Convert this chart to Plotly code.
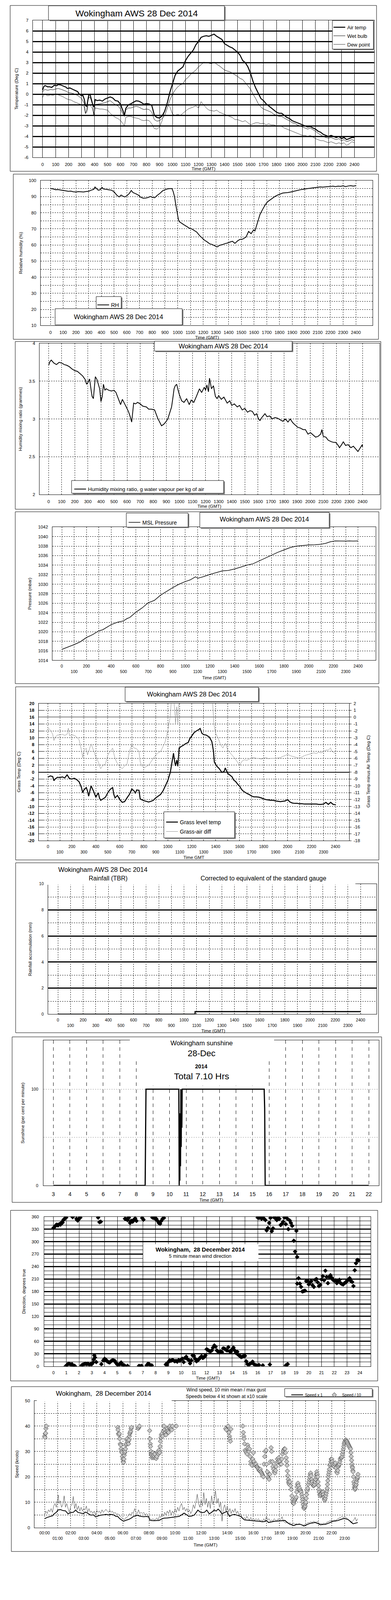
import plotly.graph_objects as go

# ------------------------------------------------------------------ data
TICKS_100 = list(range(0, 2401, 100))
SUN_HOURS = list(range(3, 23))
DIR_HOURS = list(range(0, 25))
HOUR_LABELS = ["%02d:00" % h for h in range(24)]

AIR_TEMP = [(0,0.4),(10,0.75),(20,0.82),(40,0.7),(50,0.72),(70,0.65),(90,0.85),(110,0.82),(120,0.92),(140,0.88),(160,0.78),(180,0.68),(190,0.55),(210,0.6),(230,0.48),(250,0.35),(270,0.25),(280,0.05),(300,-0.15),(310,-0.1),(320,-0.45),(330,-1.05),(340,-1.15),(345,-0.8),(355,-0.1),(365,0.0),(375,-0.5),(385,-0.95),(395,-1.2),(405,-0.5),(420,-0.6),(440,-0.55),(460,-0.65),(480,-0.45),(500,-0.35),(520,-0.25),(540,-0.35),(560,-0.6),(580,-0.65),(600,-0.95),(610,-1.3),(620,-1.6),(630,-2.0),(640,-1.35),(660,-1.0),(680,-0.9),(700,-0.75),(720,-0.62),(740,-0.65),(760,-0.78),(780,-0.95),(800,-0.88),(820,-0.92),(840,-1.05),(850,-1.5),(860,-2.0),(880,-2.2),(900,-2.25),(920,-2.05),(940,-1.6),(960,-0.8),(980,0.2),(1000,1.0),(1020,1.8),(1040,2.2),(1060,2.4),(1080,2.6),(1100,3.2),(1120,3.6),(1140,3.9),(1160,4.2),(1180,4.7),(1200,5.0),(1220,5.4),(1240,5.5),(1260,5.55),(1280,5.5),(1300,5.6),(1320,5.7),(1340,5.5),(1360,5.35),(1380,5.2),(1400,4.8),(1420,4.65),(1440,4.5),(1460,4.4),(1480,4.2),(1500,4.0),(1520,3.7),(1540,3.2),(1560,3.0),(1580,2.6),(1600,2.0),(1620,1.2),(1640,0.6),(1660,0.1),(1680,-0.4),(1700,-0.6),(1720,-0.9),(1740,-1.1),(1760,-1.3),(1780,-1.5),(1800,-1.7),(1820,-1.8),(1840,-1.8),(1860,-2.0),(1880,-2.2),(1900,-2.3),(1920,-2.5),(1940,-2.6),(1960,-2.7),(1980,-2.8),(2000,-2.9),(2020,-3.0),(2040,-3.1),(2060,-3.05),(2080,-3.2),(2100,-3.3),(2120,-3.5),(2140,-3.6),(2160,-3.8),(2180,-3.9),(2200,-4.0),(2220,-3.9),(2240,-4.0),(2260,-4.1),(2280,-4.0),(2300,-4.2),(2320,-4.1),(2340,-4.3),(2360,-4.2),(2380,-4.1),(2400,-4.1)]

WET_BULB = [(0,0.2),(10,0.4),(20,0.45),(40,0.38),(60,0.45),(80,0.42),(100,0.5),(120,0.55),(140,0.48),(160,0.4),(180,0.3),(200,0.15),(220,0.12),(240,0.05),(260,-0.05),(280,-0.2),(300,-0.4),(320,-0.85),(330,-1.8),(340,-1.5),(350,-0.5),(360,-0.25),(370,-0.4),(385,-1.0),(395,-1.95),(405,-0.95),(420,-0.95),(440,-0.9),(460,-0.85),(480,-0.8),(500,-0.7),(520,-0.6),(540,-0.8),(560,-1.0),(580,-1.1),(600,-1.4),(620,-1.9),(630,-2.1),(640,-1.5),(660,-1.3),(680,-1.3),(700,-1.2),(720,-1.15),(740,-1.2),(760,-1.35),(780,-1.45),(800,-1.4),(820,-1.45),(840,-1.7),(860,-2.4),(880,-2.55),(900,-2.5),(920,-2.3),(940,-2.0),(960,-1.3),(980,-0.5),(1000,0.0),(1020,0.4),(1040,0.7),(1060,0.9),(1080,1.0),(1100,1.4),(1120,1.6),(1140,1.9),(1160,2.1),(1180,2.3),(1200,2.6),(1220,2.8),(1240,3.05),(1260,3.0),(1280,2.95),(1300,2.9),(1320,3.05),(1340,2.85),(1360,2.7),(1380,2.5),(1400,2.3),(1420,2.2),(1440,2.15),(1460,2.0),(1480,1.85),(1500,1.7),(1520,1.5),(1540,1.4),(1560,1.1),(1580,0.8),(1600,0.5),(1620,0.0),(1640,-0.4),(1660,-0.9),(1680,-1.2),(1700,-1.4),(1720,-1.5),(1740,-1.6),(1760,-1.7),(1780,-1.9),(1800,-2.0),(1820,-2.1),(1840,-2.1),(1860,-2.25),(1880,-2.4),(1900,-2.5),(1920,-2.7),(1940,-2.75),(1960,-2.9),(1980,-3.0),(2000,-3.1),(2020,-3.2),(2040,-3.3),(2060,-3.2),(2080,-3.35),(2100,-3.5),(2120,-3.7),(2140,-3.85),(2160,-4.0),(2180,-4.1),(2200,-4.15),(2220,-4.1),(2240,-4.2),(2260,-4.3),(2280,-4.2),(2300,-4.4),(2320,-4.3),(2340,-4.5),(2360,-4.4),(2380,-4.3),(2400,-4.4)]

DEW_POINT = [(0,-0.3),(10,-0.05),(20,0.0),(40,-0.15),(60,-0.05),(80,-0.1),(100,0.0),(120,-0.05),(140,-0.15),(160,-0.25),(180,-0.4),(200,-0.5),(220,-0.55),(240,-0.7),(260,-0.8),(280,-0.9),(300,-1.0),(320,-1.2),(330,-1.85),(340,-1.7),(350,-1.1),(360,-1.0),(370,-1.1),(385,-1.4),(395,-2.0),(405,-1.3),(420,-1.35),(440,-1.4),(460,-1.4),(480,-1.45),(500,-1.5),(520,-1.8),(540,-2.0),(560,-2.2),(580,-2.3),(600,-2.5),(620,-2.8),(630,-3.05),(640,-2.2),(660,-2.1),(680,-2.1),(700,-2.2),(720,-2.25),(740,-2.3),(760,-2.45),(780,-2.5),(800,-2.45),(820,-2.5),(840,-2.8),(860,-3.25),(880,-3.3),(900,-3.1),(920,-2.5),(940,-1.5),(960,-1.0),(980,-1.2),(1000,-1.9),(1020,-2.0),(1040,-1.9),(1060,-2.0),(1080,-1.8),(1100,-1.6),(1120,-1.4),(1140,-1.3),(1160,-1.2),(1180,-1.1),(1200,-1.3),(1220,-0.7),(1240,-1.0),(1260,-1.3),(1280,-1.5),(1300,-1.55),(1320,-1.6),(1340,-1.5),(1360,-1.7),(1380,-1.8),(1400,-1.9),(1420,-2.0),(1440,-2.1),(1460,-2.2),(1480,-2.4),(1500,-2.4),(1520,-2.5),(1540,-2.6),(1560,-2.5),(1580,-2.7),(1600,-2.9),(1620,-2.8),(1640,-2.7),(1660,-2.7),(1680,-2.8),(1700,-2.75),(1720,-2.9),(1740,-2.8),(1760,-2.9),(1780,-2.9),(1800,-3.0),(1820,-3.0),(1840,-3.05),(1860,-3.2),(1880,-3.3),(1900,-3.4),(1920,-3.5),(1940,-3.6),(1960,-3.7),(1980,-3.8),(2000,-3.9),(2020,-3.9),(2040,-4.0),(2060,-3.9),(2080,-4.05),(2100,-4.2),(2120,-4.3),(2140,-4.4),(2160,-4.4),(2180,-4.5),(2200,-4.6),(2220,-4.5),(2240,-4.6),(2260,-4.7),(2280,-4.6),(2300,-4.7),(2320,-4.6),(2340,-4.85),(2360,-4.7),(2380,-4.5),(2400,-4.6)]

REL_HUM = [(0,95),(20,94.8),(40,94.3),(60,94.4),(80,94.1),(100,93.9),(120,93.6),(140,93.3),(160,93.4),(180,93.0),(200,92.9),(220,93.1),(240,93.0),(260,92.9),(280,93.2),(300,93.3),(320,94.0),(340,94.5),(350,96.0),(360,95.2),(375,94.0),(390,94.2),(405,95.7),(420,94.6),(440,94.5),(460,94.2),(480,94.0),(500,93.0),(520,91.0),(540,89.8),(555,91.0),(570,90.2),(585,89.8),(600,90.5),(620,92.0),(635,93.8),(650,92.5),(670,91.8),(690,91.0),(710,89.6),(730,89.0),(750,89.1),(770,89.5),(785,90.1),(800,89.6),(820,89.3),(835,90.5),(860,92.0),(880,93.5),(900,94.3),(920,94.8),(940,95.0),(955,95.0),(965,93.0),(975,90.0),(985,85.0),(995,80.0),(1005,76.0),(1012,74.5),(1030,73.5),(1050,72.5),(1070,71.5),(1090,70.5),(1110,70.0),(1130,69.0),(1150,68.0),(1170,66.0),(1190,64.5),(1210,63.0),(1230,62.0),(1250,60.8),(1270,60.3),(1290,59.6),(1310,58.8),(1330,59.8),(1350,60.2),(1370,60.8),(1390,61.2),(1410,61.8),(1430,62.3),(1450,61.0),(1470,62.5),(1490,63.5),(1510,63.6),(1538,65.0),(1557,68.4),(1577,67.0),(1597,69.4),(1607,68.7),(1627,73.8),(1647,79.0),(1667,82.0),(1687,84.8),(1706,86.8),(1726,88.0),(1746,89.0),(1766,90.2),(1786,91.0),(1806,91.7),(1825,92.2),(1845,92.4),(1865,92.5),(1885,92.8),(1905,93.2),(1925,93.6),(1945,94.0),(1965,94.3),(1984,94.5),(2000,94.8),(2020,95.0),(2040,95.2),(2060,95.4),(2080,95.5),(2100,95.8),(2120,96.0),(2140,95.9),(2160,96.1),(2180,96.2),(2200,96.3),(2220,96.5),(2240,96.2),(2260,96.5),(2280,96.4),(2300,96.7),(2320,96.2),(2340,96.6),(2360,96.8),(2380,96.5),(2400,96.8)]

MIX_RATIO = [(0,3.71),(10,3.76),(20,3.78),(40,3.74),(60,3.72),(80,3.75),(100,3.74),(120,3.72),(140,3.71),(160,3.69),(180,3.66),(200,3.64),(220,3.63),(240,3.60),(260,3.57),(280,3.52),(290,3.46),(300,3.48),(313,3.53),(325,3.38),(332,3.30),(342,3.27),(350,3.45),(357,3.56),(370,3.52),(380,3.46),(390,3.40),(400,3.23),(410,3.30),(419,3.46),(430,3.38),(440,3.40),(460,3.38),(480,3.37),(500,3.38),(515,3.35),(530,3.28),(550,3.19),(564,3.26),(580,3.20),(593,3.16),(610,3.10),(622,3.04),(635,2.96),(650,3.21),(665,3.20),(680,3.22),(700,3.20),(720,3.17),(747,3.16),(765,3.13),(786,3.13),(810,3.12),(834,3.01),(850,2.95),(863,2.91),(880,2.93),(895,2.96),(911,3.00),(925,3.08),(940,3.16),(950,3.28),(959,3.40),(968,3.44),(979,3.46),(990,3.38),(1000,3.32),(1017,3.24),(1035,3.22),(1055,3.27),(1075,3.19),(1090,3.25),(1110,3.22),(1130,3.30),(1153,3.40),(1170,3.35),(1190,3.42),(1200,3.38),(1210,3.45),(1222,3.36),(1230,3.54),(1245,3.40),(1260,3.44),(1275,3.30),(1288,3.27),(1300,3.31),(1320,3.26),(1340,3.29),(1365,3.21),(1385,3.24),(1400,3.18),(1420,3.20),(1442,3.16),(1460,3.18),(1480,3.12),(1500,3.14),(1520,3.09),(1540,3.11),(1558,3.10),(1575,3.05),(1590,3.07),(1605,3.00),(1616,2.98),(1630,3.02),(1654,3.07),(1670,3.03),(1690,3.04),(1710,3.00),(1730,3.02),(1751,3.01),(1770,2.99),(1790,2.97),(1810,3.00),(1830,2.96),(1847,3.00),(1867,2.95),(1885,2.92),(1905,2.89),(1925,2.88),(1945,2.86),(1963,2.86),(1983,2.80),(2002,2.82),(2020,2.79),(2041,2.76),(2060,2.77),(2080,2.80),(2089,2.86),(2100,2.77),(2120,2.76),(2137,2.72),(2160,2.70),(2180,2.69),(2195,2.69),(2210,2.66),(2224,2.62),(2240,2.66),(2253,2.70),(2270,2.65),(2290,2.66),(2311,2.62),(2330,2.64),(2350,2.60),(2365,2.57),(2380,2.61),(2398,2.66),(2400,2.63)]

MSL_PRESSURE = [(0,1016.3),(50,1016.8),(100,1017.3),(150,1017.9),(200,1018.8),(250,1019.4),(300,1020.2),(330,1020.4),(350,1020.7),(400,1021.5),(450,1022.0),(500,1022.3),(530,1022.8),(550,1023.0),(600,1024.1),(650,1025.0),(700,1026.1),(750,1026.6),(800,1027.7),(850,1028.5),(900,1029.3),(950,1030.0),(1000,1030.55),(1040,1030.9),(1083,1031.55),(1103,1031.25),(1150,1031.6),(1200,1032.05),(1250,1032.4),(1300,1032.8),(1350,1032.9),(1400,1033.2),(1450,1033.6),(1500,1034.0),(1550,1034.3),(1600,1034.9),(1650,1035.5),(1700,1036.1),(1750,1036.7),(1800,1037.2),(1850,1037.7),(1900,1038.0),(1950,1038.15),(2000,1038.25),(2050,1038.3),(2100,1038.4),(2140,1038.6),(2174,1038.9),(2215,1039.1),(2257,1039.05),(2300,1039.05),(2330,1039.1),(2360,1039.05),(2400,1039.1)]

GRASS_TEMP = [(0,-1.5),(20,-1.1),(40,-1.3),(50,-2.5),(60,-2.0),(80,-1.5),(100,-1.6),(120,-1.4),(140,-1.7),(160,-0.8),(180,-1.9),(200,-2.0),(220,-1.8),(240,-2.2),(260,-2.8),(280,-4.5),(290,-6.0),(300,-5.2),(320,-4.5),(330,-5.5),(340,-7.0),(360,-4.0),(380,-5.5),(390,-6.5),(400,-7.3),(420,-6.0),(430,-7.5),(440,-8.2),(460,-7.8),(480,-7.3),(500,-6.0),(520,-5.0),(540,-4.5),(550,-6.5),(560,-7.5),(580,-6.8),(600,-8.0),(620,-8.8),(640,-8.6),(660,-7.5),(680,-6.5),(700,-4.9),(720,-5.5),(730,-6.2),(740,-5.2),(760,-5.3),(770,-7.8),(780,-8.0),(800,-8.3),(820,-8.5),(840,-8.7),(860,-8.5),(880,-8.2),(900,-7.5),(920,-7.0),(940,-6.5),(960,-5.5),(980,-4.0),(1000,-2.5),(1021,-0.1),(1031,1.9),(1048,5.5),(1058,3.0),(1065,1.8),(1075,3.5),(1084,1.7),(1095,7.0),(1110,7.4),(1130,7.8),(1150,8.3),(1170,8.6),(1185,9.8),(1200,10.5),(1220,11.5),(1240,12.0),(1260,12.4),(1270,12.7),(1285,11.3),(1301,10.9),(1320,10.8),(1347,10.2),(1368,8.9),(1381,6.2),(1389,2.9),(1410,1.7),(1430,1.0),(1452,-0.1),(1470,0.2),(1480,1.2),(1501,-0.4),(1520,-0.9),(1537,-1.4),(1550,-2.3),(1568,-2.8),(1585,-3.6),(1600,-4.1),(1615,-5.0),(1632,-5.6),(1660,-6.2),(1684,-6.6),(1700,-7.0),(1720,-7.2),(1740,-7.2),(1760,-7.3),(1780,-7.5),(1800,-7.8),(1820,-8.0),(1840,-8.1),(1860,-8.2),(1880,-8.2),(1900,-8.4),(1920,-8.5),(1940,-8.6),(1960,-8.5),(1980,-8.4),(2000,-8.0),(2020,-8.7),(2040,-9.0),(2060,-9.1),(2080,-9.1),(2100,-9.2),(2120,-9.2),(2140,-9.3),(2160,-9.3),(2180,-9.3),(2200,-9.3),(2220,-9.3),(2240,-9.3),(2260,-9.4),(2280,-9.4),(2300,-9.3),(2320,-8.8),(2340,-9.4),(2360,-8.8),(2380,-9.4),(2400,-9.5)]

GRASS_AIR_DIFF = [(0,-1.7),(10,-1.7),(20,-1.9),(40,-2.5),(50,-3.4),(60,-2.9),(80,-2.6),(100,-2.6),(120,-2.5),(140,-2.65),(160,-2.5),(170,-1.6),(180,-2.7),(200,-2.6),(220,-2.65),(240,-2.9),(260,-3.3),(280,-4.8),(290,-5.9),(300,-4.9),(320,-4.5),(330,-5.5),(340,-5.0),(360,-3.9),(380,-4.8),(400,-5.8),(420,-6.5),(430,-7.0),(440,-7.5),(460,-7.0),(480,-6.8),(500,-5.5),(520,-5.0),(540,-4.5),(550,-5.3),(560,-6.0),(580,-6.8),(600,-7.2),(620,-7.5),(640,-7.1),(660,-6.8),(680,-5.0),(700,-4.05),(720,-4.5),(740,-4.6),(760,-5.0),(770,-6.5),(780,-7.0),(800,-7.4),(820,-7.2),(840,-7.0),(860,-6.5),(880,-6.0),(900,-5.5),(920,-5.2),(940,-5.0),(960,-4.3),(980,-3.5),(1000,-2.0),(1020,0.0),(1030,2.5),(1048,3.0),(1058,1.0),(1065,-0.9),(1075,1.5),(1084,-0.9),(1095,3.0),(1150,4.5),(1200,5.5),(1250,6.5),(1300,5.0),(1350,4.0),(1375,2.0),(1385,-1.0),(1400,-2.4),(1420,-3.0),(1440,-4.0),(1460,-4.5),(1480,-3.8),(1490,-4.2),(1500,-4.8),(1520,-5.2),(1540,-5.6),(1560,-6.0),(1580,-6.5),(1600,-7.05),(1620,-6.4),(1640,-6.2),(1660,-6.3),(1680,-6.1),(1700,-5.9),(1720,-5.9),(1740,-6.0),(1760,-6.0),(1780,-6.1),(1800,-6.0),(1820,-5.9),(1840,-6.05),(1860,-6.0),(1880,-6.0),(1900,-6.0),(1920,-5.95),(1940,-5.9),(1960,-5.7),(1980,-5.6),(2000,-5.4),(2020,-5.6),(2040,-5.7),(2060,-5.8),(2080,-5.9),(2100,-6.0),(2120,-5.8),(2140,-5.6),(2160,-5.5),(2180,-5.4),(2200,-5.3),(2220,-5.2),(2240,-5.3),(2260,-5.1),(2280,-5.2),(2300,-5.0),(2320,-4.8),(2340,-4.8),(2358,-4.47),(2370,-5.0),(2385,-5.1),(2400,-5.4)]

RAIN_TIME = [0, 1088, 2400]
RAIN_ACCUM = [0.0, 0.2, 0.2]

SUNSHINE = [(3,0),(8.53,0),(8.58,100),(10.56,100),(10.58,0),(10.6,45),(10.62,5),(10.64,75),(10.66,20),(10.68,100),(10.7,40),(10.72,90),(10.74,60),(10.76,100),(15.7,100),(15.73,80),(15.76,0),(22,0)]

WIND_DIR = [(0.0,333),(0.1,336),(0.2,340),(0.27,341),(0.35,339),(0.45,342),(0.55,341),(0.63,346),(0.71,346),(0.78,352),(0.83,354),(0.9,356),(0.99,358),
(0.95,0),(1.05,3),(1.12,5),(1.2,6),(1.3,5),(1.38,3),(1.45,5),(1.55,1),(1.65,1),(1.68,0),
(1.5,359),(1.8,355),(1.85,352),(1.9,351),(1.95,353),(2.0,355),(2.05,357),(2.1,358),
(2.2,2),(2.3,4),(2.4,5),(2.5,6),(2.6,5),(2.7,6),(2.8,4),(2.9,5),(3.0,5),(3.1,9),(3.15,16),(3.2,26),(3.25,21),(3.35,10),
(3.5,358),(3.6,347),(3.7,348),
(3.75,5),(3.9,14),(4.0,18),(4.05,15),(4.1,16),(4.2,12),(4.3,10),(4.4,9),(4.5,12),(4.6,14),(4.7,14),(4.8,13),(4.9,8),(5.0,4),(5.1,2),(5.2,6),(5.3,9),(5.4,3),(5.5,3),(5.6,1),(5.8,1),
(5.6,355),(5.7,354),(5.8,352),(5.9,358),(6.0,345),(6.05,348),(6.1,350),(6.2,348),(6.3,353),(6.4,356),(6.5,350),
(6.7,1),(6.8,0),(6.9,1),(6.95,357),(7.05,353),
(7.3,2),(7.4,6),(7.5,5),(7.6,2),(7.7,2),
(7.75,358),(7.85,357),(7.95,356),(8.05,355),(8.15,350),(8.25,345),(8.35,343),(8.45,350),(8.55,355),(8.65,357),
(8.8,4),(8.85,6),(8.9,3),
(9.0,10),(9.1,14),(9.2,13),(9.3,15),(9.4,14),(9.5,12),(9.6,13),(9.7,11),(9.8,15),(9.9,13),(10.0,16),(10.1,18),(10.2,10),(10.3,20),(10.4,23),(10.5,17),(10.6,15),(10.7,7),(10.8,14),(10.9,26),(11.0,25),(11.1,18),(11.2,12),(11.3,14),(11.4,17),(11.5,21),(11.6,24),(11.7,20),(11.8,22),(11.9,26),
(12.0,41),(12.1,39),(12.2,37),(12.3,36),(12.4,38),(12.5,45),(12.6,50),(12.7,47),(12.8,38),(12.9,35),(13.0,33),(13.1,36),(13.2,34),(13.3,43),(13.4,42),(13.5,40),(13.6,38),(13.7,46),(13.8,36),(13.9,35),(14.0,41),(14.1,45),(14.2,38),(14.3,32),(14.4,35),(14.5,27),(14.6,25),(14.7,22),(14.8,23),(14.9,24),(15.0,25),
(15.1,12),(15.2,5),(15.3,3),(15.4,6),(15.5,8),(15.6,11),(15.7,5),(15.8,3),(15.9,2),(16.0,1),(16.1,3),(16.4,2),(16.95,4),
(16.0,358),(16.1,357),(16.2,359),(16.3,355),(16.4,358),(16.5,355),(16.6,352),(16.7,327),(16.8,333),(16.9,345),(17.0,357),(17.1,325),(17.2,332),(17.3,358),(17.4,356),(17.5,352),(17.6,357),(17.7,355),(17.8,340),(17.9,343),(18.0,348),(18.1,358),(18.2,342),(18.3,356),(18.4,330),(18.5,351),(18.6,345),(18.7,338),
(18.2,2),(18.3,4),(18.35,5),
(18.83,302),(18.93,276),(19.03,326),(19.09,263),
(19.1,199),(19.2,212),(19.3,199),(19.4,191),(19.5,180),(19.6,181),(19.7,182),(19.8,205),(19.9,206),(20.0,197),(20.1,201),(20.2,205),(20.3,195),(20.4,191),(20.5,208),(20.6,210),(20.7,202),(20.8,193),(20.9,196),(21.0,209),(21.1,217),(21.2,207),(21.3,230),(21.4,215),(21.5,200),(21.6,215),(21.7,219),(21.8,213),(21.9,208),(22.0,206),(22.1,207),(22.2,200),(22.3,205),(22.4,208),(22.5,200),(22.6,198),(22.7,197),(22.8,200),(22.9,202),(23.0,206),(23.1,208),(23.2,212),(23.3,205),(23.4,203),(23.5,193),(23.6,231),(23.7,248),(23.8,256),(23.9,255)]

SPEED_MEAN = [(0,3.5),(0.2,4.0),(0.44,4.4),(0.6,4.6),(0.73,5.4),(0.9,6.0),(1.02,6.9),(1.22,7.1),(1.4,6.7),(1.6,6.6),(1.8,5.4),(1.99,5.9),(2.2,6.0),(2.38,6.9),(2.55,6.0),(2.76,5.7),(2.95,5.5),(3.15,6.1),(3.35,5.5),(3.54,4.9),(3.75,5.0),(3.92,4.2),(4.1,4.6),(4.31,4.9),(4.5,5.0),(4.7,5.2),(4.9,5.0),(5.08,5.2),(5.3,5.0),(5.47,4.4),(5.6,4.4),(5.76,3.5),(5.9,3.0),(6.05,2.5),(6.25,2.9),(6.44,3.2),(6.6,3.6),(6.82,4.4),(6.95,4.6),(7.1,4.9),(7.25,4.6),(7.4,4.4),(7.6,4.3),(7.8,4.4),(7.98,4.2),(8.05,3.0),(8.18,2.8),(8.4,2.7),(8.6,2.8),(8.76,2.8),(8.95,3.3),(9.14,3.7),(9.4,3.8),(9.72,4.0),(10.0,4.2),(10.3,4.4),(10.5,5.0),(10.69,5.7),(10.9,5.0),(11.07,4.4),(11.25,4.5),(11.46,4.9),(11.6,5.8),(11.75,6.9),(11.9,6.2),(12.04,5.9),(12.25,6.0),(12.43,6.9),(12.62,5.4),(12.8,6.0),(13.0,6.9),(13.15,6.5),(13.3,7.3),(13.45,6.5),(13.59,5.4),(13.75,5.8),(13.97,6.4),(14.17,4.4),(14.35,5.0),(14.56,5.2),(14.8,4.8),(15.04,4.4),(15.2,3.5),(15.33,3.0),(15.6,2.9),(15.9,2.8),(16.2,2.6),(16.45,2.5),(16.68,2.3),(16.9,2.4),(17.0,2.8),(17.16,2.0),(17.4,2.3),(17.65,2.5),(17.9,2.6),(18.1,2.7),(18.42,2.8),(18.6,2.0),(18.8,1.3),(18.95,1.1),(19.1,0.8),(19.3,1.2),(19.58,1.3),(19.75,1.0),(19.87,0.6),(20.05,1.0),(20.26,1.5),(20.5,1.8),(20.74,2.0),(20.95,1.6),(21.13,1.1),(21.3,1.2),(21.52,1.3),(21.8,1.8),(22.1,2.5),(22.3,2.6),(22.49,2.8),(22.7,3.2),(22.88,3.5),(23.05,3.5),(23.25,3.2),(23.45,2.4),(23.64,1.5),(23.8,1.7),(24.0,2.0)]

SPEED_GUST = [(0.0,5.0),(0.1,6.5),(0.2,5.5),(0.3,7.0),(0.4,6.2),(0.5,7.5),(0.6,6.0),(0.7,8.5),(0.8,9.5),(0.9,8.0),(1.0,11.5),(1.05,12.8),(1.1,9.5),(1.2,10.5),(1.3,8.0),(1.4,9.0),(1.5,12.5),(1.6,8.0),(1.7,9.5),(1.8,7.5),(1.9,6.0),(2.0,8.5),(2.1,9.0),(2.2,12.3),(2.3,7.5),(2.4,9.5),(2.5,7.0),(2.6,8.5),(2.7,6.5),(2.8,8.0),(2.9,6.5),(3.0,7.5),(3.1,7.0),(3.2,8.5),(3.3,6.0),(3.4,7.5),(3.5,6.0),(3.6,6.5),(3.7,5.5),(3.8,6.5),(3.9,5.0),(4.0,6.8),(4.1,6.0),(4.2,6.5),(4.3,5.5),(4.4,7.0),(4.5,6.0),(4.6,6.5),(4.7,7.2),(4.8,6.5),(4.9,6.0),(5.0,6.8),(5.1,6.0),(5.2,6.5),(5.3,5.5),(5.4,6.0),(5.5,5.2),(5.6,5.5),(5.7,5.0),(5.8,4.5),(5.9,4.0),(6.0,3.5),(6.1,3.0),(6.2,3.8),(6.3,4.0),(6.4,4.5),(6.5,5.5),(6.6,4.8),(6.7,6.0),(6.8,5.5),(6.9,7.5),(7.0,6.0),(7.1,5.5),(7.2,7.0),(7.3,5.5),(7.4,6.0),(7.5,5.5),(7.6,6.0),(7.7,5.0),(7.8,5.5),(7.9,5.0),(8.0,4.0),(8.1,3.5),(8.2,3.0),(8.3,3.5),(8.4,3.0),(8.5,3.2),(8.6,3.8),(8.7,3.0),(8.8,4.5),(8.9,4.0),(9.0,5.5),(9.1,4.5),(9.2,6.0),(9.3,5.0),(9.4,6.5),(9.5,5.5),(9.6,7.0),(9.7,5.0),(9.8,6.5),(9.9,5.5),(10.0,7.5),(10.1,6.0),(10.2,8.0),(10.3,6.5),(10.4,8.5),(10.5,9.5),(10.6,7.0),(10.7,8.0),(10.8,6.5),(10.9,7.5),(11.0,6.0),(11.1,7.0),(11.2,5.5),(11.3,6.5),(11.4,9.0),(11.5,7.5),(11.6,10.0),(11.7,13.2),(11.8,9.5),(11.9,8.0),(12.0,11.0),(12.1,8.5),(12.2,13.8),(12.3,9.0),(12.4,11.5),(12.5,8.0),(12.6,10.5),(12.7,7.5),(12.8,12.5),(12.9,9.0),(13.0,11.0),(13.1,14.5),(13.2,9.5),(13.3,11.5),(13.4,8.0),(13.5,10.0),(13.6,2.5),(13.7,7.5),(13.8,9.0),(13.9,6.5),(14.0,8.5),(14.1,6.0),(14.2,7.5),(14.3,5.5),(14.4,7.0),(14.5,6.0),(14.6,7.5),(14.7,5.5),(14.8,6.5),(14.9,5.0),(15.0,5.5),(15.1,4.5),(15.2,3.5),(15.3,4.0),(15.4,3.2),(15.5,4.5),(15.6,3.5),(15.7,3.0),(15.8,4.0),(15.9,3.0),(16.0,3.5),(16.1,2.8),(16.2,3.5),(16.3,3.0),(16.4,3.5),(16.5,2.5),(16.6,3.0),(16.7,2.5),(16.8,3.5),(16.9,2.5),(17.0,4.5),(17.1,3.0),(17.2,3.5),(17.3,2.5),(17.4,3.0),(17.5,2.5),(17.6,3.5),(17.7,3.0),(17.8,2.5),(17.9,3.5),(18.0,2.8),(18.1,3.2),(18.2,4.3),(18.3,2.5),(18.4,2.0),(18.5,1.8),(18.6,2.2),(18.7,1.5),(18.8,2.0),(18.9,1.2),(19.0,1.5),(19.1,1.8),(19.2,1.3),(19.3,1.5),(19.4,1.2),(19.5,1.6),(19.6,1.3),(19.7,1.0),(19.8,0.8),(19.9,1.2),(20.0,1.0),(20.1,1.6),(20.2,2.0),(20.3,1.8),(20.4,2.3),(20.5,2.0),(20.6,2.5),(20.7,2.2),(20.8,2.0),(20.9,2.5),(21.0,1.8),(21.1,1.5),(21.2,1.6),(21.3,1.3),(21.4,1.8),(21.5,1.5),(21.6,2.0),(21.7,2.2),(21.8,2.5),(21.9,2.8),(22.0,3.0),(22.1,2.5),(22.2,3.0),(22.3,2.8),(22.4,3.2),(22.5,3.5),(22.6,3.8),(22.7,4.0),(22.8,4.5),(22.9,3.8),(23.0,4.2),(23.1,4.0),(23.2,3.5),(23.3,3.0),(23.4,2.5),(23.5,1.8),(23.6,2.5),(23.7,3.0),(23.8,4.0),(23.9,2.5),(24.0,3.5)]

SPEED_X10 = [(0.0,36),(0.03,35.5),(0.05,37),(0.08,37.2),(0.1,39),(0.13,40),
(5.6,39.5),(5.63,38.5),(5.66,37),(5.7,36.5),(5.73,37),(5.76,35),(5.8,33),(5.83,32.5),(5.86,31),(5.9,30),(5.93,29.5),(5.96,28),(6.0,27),(6.03,26),(6.05,25.7),(6.08,27),(6.11,28.5),(6.14,29.5),(6.17,30),(6.2,31),(6.23,32.5),(6.26,33),(6.3,34.5),(6.33,35),(6.36,33.5),(6.4,34),(6.43,33),(6.46,34.5),(6.5,36),(6.53,37),(6.56,37.5),(6.6,38),(6.63,39),(6.66,39.5),
(7.17,39),(7.22,39.5),(7.27,40),
(8.05,38.2),(8.08,35),(8.1,33),(8.12,32),(8.15,30),(8.18,29),(8.2,28.5),(8.23,27.5),(8.27,28),(8.3,29.5),(8.33,28.5),(8.37,27.5),(8.4,28),(8.45,29),(8.5,27.5),(8.55,27.2),(8.6,28),(8.65,29.5),(8.7,30),(8.73,29),(8.77,30.5),(8.8,29.5),(8.85,32),(8.88,34),(8.92,35.5),(8.95,36.5),(9.0,37),(9.05,36),(9.1,38),(9.15,40),(9.2,38.5),(9.25,37.5),(9.3,36.5),(9.35,38),(9.4,39),(9.45,38),(9.5,37.5),(9.55,39.5),(9.6,40),(9.7,39),(9.75,38.5),(9.8,40),(10.1,40),
(13.88,39),(13.93,38.5),(14.07,40),(14.13,37.5),(14.17,36),(14.2,35),(14.24,34),(14.28,38.8),
(15.19,40),(15.23,37.5),(15.26,36),(15.29,35),(15.33,33),(15.37,30.5),(15.42,30),(15.47,29.5),(15.52,29),(15.57,32.5),(15.61,31.5),(15.66,30),(15.71,31),(15.75,28),(15.8,26),(15.85,25),(15.9,24.5),(15.95,27),(16.0,29.5),(16.05,26),(16.1,25),(16.15,24.5),(16.2,25),(16.25,24),(16.29,24),(16.34,23.5),(16.39,23),(16.44,22.5),(16.48,22.5),(16.53,23),(16.58,22),(16.63,21.5),(16.68,21),(16.72,20.5),(16.77,20),(16.82,25),(16.87,28),(16.92,30),(16.97,30.5),(17.02,25),(17.07,22),(17.11,20),(17.16,19.5),(17.21,19),(17.26,21),(17.31,26),(17.36,31.5),(17.4,30),(17.46,26),(17.5,24),(17.55,23),(17.6,22),(17.65,21.5),(17.7,22.5),(17.74,24),(17.79,25.5),(17.84,27),(17.89,26),(17.94,27.5),(17.98,26.5),(18.03,26),(18.08,25),(18.13,25),(18.18,27),(18.23,29),(18.28,30),(18.32,30.5),(18.37,31),(18.42,31),(18.47,29.5),(18.52,27.5),(18.55,26),(18.58,24.5),(18.61,22.3),(18.64,20.5),(18.67,19),(18.7,18),(18.72,17.5),(18.76,17),(18.8,18),(18.85,16.5),(18.9,15),(18.95,12.5),(19.0,11),(19.04,10),(19.07,9.5),(19.1,9.5),(19.15,10.5),(19.19,11),(19.24,11.5),(19.29,12),(19.32,14),(19.35,16),(19.38,17),(19.42,17.5),(19.46,16.5),(19.5,15),(19.55,15.5),(19.61,14.5),(19.66,14),(19.71,13),(19.74,12),(19.77,11),(19.8,10),(19.83,9),(19.86,8),(19.89,7.5),(19.93,8),(19.97,8.5),(20.0,9.5),(20.03,10),(20.05,11.5),(20.08,13),(20.12,14.5),(20.16,15.5),(20.21,17),(20.26,18),(20.3,19),(20.32,20),(20.36,21),(20.39,21.5),(20.43,20.5),(20.47,19),(20.51,18),(20.55,17),(20.6,16.5),(20.64,16.5),(20.69,17),(20.74,18),(20.77,19),(20.8,20),(20.83,21),(20.86,22),(20.9,21),(20.93,20),(20.96,18),(20.99,16.5),(21.02,15),(21.05,14),(21.09,13),(21.13,12.5),(21.17,13),(21.22,13.5),(21.27,14),(21.32,14),(21.36,13),(21.4,12),(21.44,11.2),(21.47,10.8),(21.51,11.5),(21.55,12.5),(21.59,13.5),(21.63,14.5),(21.66,15.5),(21.68,17),(21.71,18.5),(21.74,20),(21.77,21),(21.8,22),(21.83,23),(21.86,24.5),(21.9,25),(21.94,26),(21.97,27),(22.01,27),(22.05,26),(22.09,25),(22.14,24.5),(22.19,24),(22.24,25),(22.28,25.5),(22.33,23.5),(22.38,22),(22.43,21.5),(22.47,22.5),(22.51,24),(22.55,24.5),(22.59,25),(22.63,26),(22.66,27),(22.71,27.5),(22.76,27.5),(22.8,28),(22.82,29),(22.86,30),(22.9,31),(22.93,32),(22.96,33),(22.99,33.5),(23.02,34),(23.06,34.5),(23.1,34.5),(23.13,34),(23.17,34),(23.21,33.5),(23.25,33),(23.3,32.5),(23.35,32),(23.4,31.5),(23.45,31),(23.48,29.5),(23.5,28),(23.53,26.5),(23.56,25),(23.58,24),(23.6,23.5),(23.62,22.5),(23.64,22),(23.67,20),(23.7,18),(23.73,17),(23.75,16),(23.77,15.5),(23.79,15),(23.82,15.5),(23.85,16.5),(23.88,17),(23.91,18),(23.94,19),(23.97,19.5),(24.0,20),(24.02,21)]

# ------------------------------------------------------------------ helpers
# Layout is designed on a 1000 x 5000 page and expressed as page fractions; the figure
# fills the browser window (minus the 8px body margin).
FIG_W, FIG_H, OFF = 984, 4984, 8
FS = 0.88          # font scale
SANS = "Liberation Sans, Arial, sans-serif"


def PX(x):
    return (x - OFF) / FIG_W


def PY(y):
    return 1 - (y - OFF) / FIG_H


def xs(pairs):
    return [p[0] for p in pairs]


def ys(pairs):
    return [p[1] for p in pairs]


def tf(size=13, bold=False):
    return dict(family=SANS, size=round(size * FS, 1), color="black",
                weight="bold" if bold else "normal")


shapes, annotations = [], []


def rect(x0, y0, x1, y1, fill="rgba(0,0,0,0)", line=True):
    shapes.append(dict(type="rect", xref="paper", yref="paper",
                       x0=PX(x0), x1=PX(x1), y0=PY(y1), y1=PY(y0),
                       line=dict(color="black", width=1 if line else 0),
                       fillcolor=fill, layer="above"))


def boxed(x0, y0, x1, y1):
    rect(x0 + 3, y0 + 3, x1 + 3, y1 + 3, fill="#7f7f7f", line=False)
    rect(x0, y0, x1, y1, fill="white")


def text(x, y, s, size=13, bold=False, angle=0, xanchor="center"):
    annotations.append(dict(x=PX(x), y=PY(y), xref="paper", yref="paper", text=s,
                            showarrow=False, font=tf(size, bold), xanchor=xanchor,
                            yanchor="middle", textangle=angle))


def xdom(x0, x1):
    return [PX(x0), PX(x1)]


def ydom(y0, y1):
    return [PY(y1), PY(y0)]


def two_rows(labels):
    return [lab if i % 2 == 0 else "<br>" + lab for i, lab in enumerate(labels)]


AX = dict(showline=True, mirror=True, linecolor="black", linewidth=1, ticks="",
          zeroline=False, tickfont=tf(13), tickangle=0, fixedrange=True)
DOT = dict(showgrid=True, gridcolor="black", gridwidth=1, griddash="dot")


def axis(*parts, **kw):
    d = {}
    for p in parts:
        d.update(p)
    d.update(kw)
    return d


fig = go.Figure()
L = {}

# ------------------------------------------------------------------ panel 1: temperatures
L["xaxis"] = axis(AX, domain=xdom(84, 957), range=[-75, 2552], anchor="y",
                  tickvals=TICKS_100, ticktext=[str(v) for v in TICKS_100],
                  showgrid=True, gridcolor="black", gridwidth=1, ticklabelstandoff=7)
L["yaxis"] = axis(AX, domain=ydom(55, 485), range=[-6, 7], anchor="x",
                  tickvals=list(range(-6, 8)), ticktext=[str(v) for v in range(-6, 8)],
                  showgrid=True, gridcolor="black", gridwidth=3, ticklabelstandoff=8)
fig.add_trace(go.Scatter(x=xs(AIR_TEMP), y=ys(AIR_TEMP), name="Air temp", mode="lines",
                         line=dict(color="black", width=2.5), xaxis="x", yaxis="y",
                         legend="legend", legendgroup="a"))
fig.add_trace(go.Scatter(x=xs(WET_BULB), y=ys(WET_BULB), name="Wet bulb", mode="lines",
                         line=dict(color="black", width=1), xaxis="x", yaxis="y",
                         legend="legend", legendgroup="b"))
fig.add_trace(go.Scatter(x=xs(DEW_POINT), y=ys(DEW_POINT), name="Dew point", mode="lines",
                         line=dict(color="black", width=0.8), xaxis="x", yaxis="y",
                         legend="legend", legendgroup="c"))
rect(26, 8, 963, 528)
boxed(124, 9, 574, 54)
text(349, 32, "Wokingham AWS 28 Dec 2014", 26)
boxed(850, 55, 955, 145)
text(42, 270, "Temperature (Deg C)", 13, angle=-90)
text(520, 520, "Time (GMT)", 13)

# ------------------------------------------------------------------ panel 2: RH
L["xaxis2"] = axis(AX, DOT, domain=xdom(104, 953), range=[-77, 2532], anchor="y2",
                   tickvals=TICKS_100, ticktext=[str(v) for v in TICKS_100], ticklabelstandoff=7)
L["yaxis2"] = axis(AX, DOT, domain=ydom(557, 1012), range=[10, 100], anchor="x2",
                   tickvals=list(range(10, 101, 10)), ticklabelstandoff=8,
                   minor=dict(dtick=5, tick0=0, showgrid=True, gridcolor="black", griddash="dot", gridwidth=1))
fig.add_trace(go.Scatter(x=xs(REL_HUM), y=ys(REL_HUM), name="RH", mode="lines",
                         line=dict(color="black", width=2), xaxis="x2", yaxis="y2", legend="legend2"))
rect(34, 537, 968, 1055)
boxed(246, 921, 310, 958)
boxed(141, 959, 466, 1010)
text(303, 985, "Wokingham AWS 28 Dec 2014", 19)
text(53, 784, "Relative humidity (%)", 13, angle=-90)
text(529, 1049, "Time (GMT)", 13)

# ------------------------------------------------------------------ panel 3: mixing ratio
L["xaxis3"] = axis(AX, DOT, domain=xdom(101, 971), range=[-70, 2531], anchor="y3",
                   tickvals=TICKS_100, ticktext=[str(v) for v in TICKS_100], ticklabelstandoff=7)
L["yaxis3"] = axis(AX, DOT, domain=ydom(1068, 1542), range=[2, 4], anchor="x3",
                   tickvals=[2, 2.5, 3, 3.5, 4], ticktext=["2", "2.5", "3", "3.5", "4"],
                   ticklabelstandoff=8)
fig.add_trace(go.Scatter(x=xs(MIX_RATIO), y=ys(MIX_RATIO),
                         name="Humidity mixing ratio, g water vapour per kg of air", mode="lines",
                         line=dict(color="black", width=2), xaxis="x3", yaxis="y3", legend="legend3"))
rect(39, 1062, 974, 1588)
boxed(395, 1061, 747, 1092)
text(571, 1077, "Wokingham AWS 28 Dec 2014", 19)
boxed(183, 1498, 572, 1538)
text(52, 1305, "Humidity mixing ratio (grammes)", 13, angle=-90)
text(535, 1579, "Time (GMT)", 13)

# ------------------------------------------------------------------ panel 4: pressure
L["xaxis4"] = axis(AX, DOT, domain=xdom(134, 961), range=[-76, 2543], anchor="y4",
                   tickvals=TICKS_100, ticktext=two_rows([str(v) for v in TICKS_100]),
                   tickfont=tf(12), ticklabelstandoff=5)
L["yaxis4"] = axis(AX, DOT, domain=ydom(1644, 2062), range=[1014, 1042], anchor="x4",
                   tickvals=list(range(1014, 1043, 2)), ticklabelstandoff=8)
fig.add_trace(go.Scatter(x=xs(MSL_PRESSURE), y=ys(MSL_PRESSURE), name="MSL Pressure", mode="lines",
                         line=dict(color="black", width=1.5), xaxis="x4", yaxis="y4", legend="legend4"))
rect(39, 1596, 969, 2135)
boxed(323, 1600, 481, 1644)
boxed(511, 1598, 842, 1646)
text(676, 1620, "Wokingham AWS 28 Dec 2014", 19)
text(76, 1853, "Pressure (mbar)", 13, angle=-90)
text(547, 2116, "Time (GMT)", 13)

# ------------------------------------------------------------------ panel 5: grass
L["xaxis5"] = axis(AX, DOT, domain=xdom(99, 893), range=[-77, 2514], anchor="y5",
                   tickvals=TICKS_100, ticktext=two_rows([str(v) for v in TICKS_100]),
                   tickfont=tf(12), ticklabelstandoff=5)
L["yaxis5"] = axis(AX, DOT, domain=ydom(2197, 2628), range=[-20, 20], anchor="x5",
                   tickvals=list(range(-20, 21, 2)), ticktext=[str(v) for v in range(-20, 21, 2)],
                   tickfont=tf(13, True), ticks="inside", ticklen=12, tickcolor="black",
                   zeroline=True, zerolinecolor="black", zerolinewidth=2, ticklabelstandoff=8)
L["yaxis10"] = axis(AX, domain=ydom(2197, 2628), range=[-18, 2], anchor="x5", overlaying="y5",
                    side="right", mirror=False, tickvals=list(range(-18, 3)),
                    ticktext=[str(v) for v in range(-18, 3)], ticks="outside", ticklen=5,
                    tickcolor="black", showgrid=False, zeroline=True, zerolinecolor="black",
                    zerolinewidth=1, ticklabelstandoff=3)
fig.add_trace(go.Scatter(x=xs(GRASS_TEMP), y=ys(GRASS_TEMP), name="Grass level temp", mode="lines",
                         line=dict(color="black", width=2.5), xaxis="x5", yaxis="y5",
                         legend="legend5", legendgroup="g1"))
fig.add_trace(go.Scatter(x=xs(GRASS_AIR_DIFF), y=ys(GRASS_AIR_DIFF), name="Grass-air diff", mode="lines",
                         line=dict(color="#8c8c8c", width=1), xaxis="x5", yaxis="y10",
                         legend="legend5", legendgroup="g2"))
rect(40, 2145, 969, 2688)
boxed(320, 2146, 661, 2191)
text(490, 2168, "Wokingham AWS 28 Dec 2014", 19)
boxed(419, 2537, 600, 2619)
text(48, 2412, "Grass Temp (Deg C)", 13, angle=-90)
text(942, 2411, "Grass Temp minus Air Temp (Deg C)", 13, angle=-90)
text(495, 2680, "Time GMT", 13)

# ------------------------------------------------------------------ panel 6: rainfall
L["xaxis6"] = axis(AX, DOT, domain=xdom(123, 963), range=[-78, 2527], anchor="y6",
                   tickvals=TICKS_100, ticktext=two_rows([str(v) for v in TICKS_100]),
                   tickfont=tf(12), ticklabelstandoff=5)
L["yaxis6"] = axis(AX, domain=ydom(2763, 3172), range=[0, 10], anchor="x6",
                   tickvals=[0, 2, 4, 6, 8, 10], showgrid=True, gridcolor="black", gridwidth=3,
                   tickfont=tf(12), ticklabelstandoff=8,
                   minor=dict(dtick=1, tick0=0, showgrid=True, gridcolor="black", griddash="dot", gridwidth=1))
fig.add_trace(go.Scatter(x=RAIN_TIME, y=RAIN_ACCUM, mode="lines", line_shape="hv", name="Rainfall",
                         line=dict(color="black", width=3), xaxis="x6", yaxis="y6", showlegend=False))
rect(40, 2697, 968, 3230)
rect(121, 2759, 909, 2766, fill="white", line=False)
text(147, 2719, "Wokingham AWS 28 Dec 2014", 19, xanchor="left")
text(276, 2746, "Rainfall (TBR)", 18)
text(674, 2746, "Corrected to equivalent of the standard gauge", 18)
text(77, 2968, "Rainfall accumulation (mm)", 13, angle=-90)
text(545, 3224, "Time (GMT)", 13)

# ------------------------------------------------------------------ panel 7: sunshine
L["xaxis7"] = axis(AX, domain=xdom(111, 969), range=[2.4, 22.61], anchor="y7",
                   tickvals=SUN_HOURS, ticktext=[str(v) for v in SUN_HOURS], tickfont=tf(16),
                   showgrid=True, gridcolor="black", gridwidth=1, griddash="dash", ticklabelstandoff=9)
L["yaxis7"] = axis(AX, domain=ydom(3253, 3709), range=[0, 151], anchor="x7",
                   tickvals=[0, 50, 100], ticktext=["0", "", "100"], tickfont=tf(12),
                   showgrid=True, gridcolor="#9a9a9a", griddash="dot", gridwidth=1, ticklabelstandoff=10)
fig.add_trace(go.Scatter(x=xs(SUNSHINE), y=ys(SUNSHINE), mode="lines", name="Sunshine",
                         line=dict(color="black", width=3), xaxis="x7", yaxis="y7", showlegend=False))
rect(31, 3243, 976, 3762)
rect(332, 3250, 701, 3318, fill="white", line=False)
rect(352, 3250, 685, 3396, fill="white", line=False)
text(515, 3263, "Wokingham sunshine", 19)
text(515, 3295, "28-Dec", 25)
text(515, 3336, "2014", 16, bold=True)
text(515, 3366, "Total 7.10 Hrs", 26)
text(58, 3482, "Sunshine (per cent per minute)", 13, angle=-90)
text(540, 3755, "Time (GMT)", 13)

# ------------------------------------------------------------------ panel 8: wind direction
L["xaxis8"] = axis(AX, domain=xdom(113, 948), range=[-0.73, 24.85], anchor="y8",
                   tickvals=DIR_HOURS, ticktext=[str(v) for v in DIR_HOURS], tickfont=tf(12.5),
                   showgrid=True, gridcolor="black", gridwidth=1, ticklabelstandoff=6)
L["yaxis8"] = axis(AX, domain=ydom(3807, 4276), range=[0, 360], anchor="x8",
                   tickvals=list(range(0, 361, 30)), showgrid=True, gridcolor="black", gridwidth=3,
                   ticklabelstandoff=10,
                   minor=dict(dtick=10, tick0=0, showgrid=True, gridcolor="black", gridwidth=1))
fig.add_trace(go.Scatter(x=xs(WIND_DIR), y=ys(WIND_DIR), mode="markers", name="Direction",
                         marker=dict(symbol="diamond", size=9, color="black"),
                         xaxis="x8", yaxis="y8", showlegend=False))
rect(27, 3787, 966, 4322)
rect(366, 3893, 661, 3946, fill="white", line=False)
text(512, 3910, "Wokingham,\u00a0 28 December 2014", 17, bold=True)
text(512, 3931, "5 minute mean wind direction", 14)
text(61, 4042, "Direction, degrees true", 13, angle=-90)
text(531, 4313, "Time (GMT)", 13)

# ------------------------------------------------------------------ panel 9: wind speed
L["xaxis9"] = axis(AX, DOT, domain=xdom(88, 961), range=[-0.78, 25.38], anchor="y9",
                   tickvals=list(range(24)), ticktext=two_rows(HOUR_LABELS),
                   tickfont=tf(12), ticklabelstandoff=4)
L["yaxis9"] = axis(AX, DOT, domain=ydom(4384, 4782), range=[0, 50], anchor="x9",
                   tickvals=list(range(0, 51, 10)), ticklabelstandoff=8,
                   minor=dict(dtick=5, tick0=0, showgrid=True, gridcolor="black", griddash="dot", gridwidth=1))
fig.add_trace(go.Scatter(x=xs(SPEED_GUST), y=ys(SPEED_GUST), mode="lines", name="Max gust",
                         line=dict(color="#4a4a4a", width=1), xaxis="x9", yaxis="y9", showlegend=False))
fig.add_trace(go.Scatter(x=xs(SPEED_MEAN), y=ys(SPEED_MEAN), mode="lines", name="Speed x 1",
                         line=dict(color="black", width=2), xaxis="x9", yaxis="y9", legend="legend6"))
fig.add_trace(go.Scatter(x=xs(SPEED_X10), y=ys(SPEED_X10), mode="markers", name="Speed / 10",
                         marker=dict(symbol="diamond", size=9, color="#c8c8c8",
                                     line=dict(color="#333333", width=1)),
                         xaxis="x9", yaxis="y9", legend="legend6"))
rect(29, 4340, 968, 4857)
rect(94, 4346, 439, 4387, fill="white", line=False)
text(265, 4362, "Wokingham,\u00a0 28 December 2014", 19)
text(579, 4350, "Wind speed, 10 min mean / max gust", 14)
text(579, 4371, "Speeds below 4 kt shown at x10 scale", 14)
boxed(728, 4346, 952, 4371)
text(43, 4584, "Speed (knots)", 13, angle=-90)
text(525, 4836, "Time (GMT)", 13)

# ------------------------------------------------------------------ legends
LEG = dict(bgcolor="rgba(0,0,0,0)", borderwidth=0, xanchor="left", yanchor="top",
           itemclick=False, itemdoubleclick=False, traceorder="grouped")


def lf(size):
    return dict(family=SANS, size=size, color="black")


L["legend"] = axis(LEG, x=PX(848), y=PY(58), font=lf(13), tracegroupgap=2)
L["legend2"] = axis(LEG, x=PX(244), y=PY(928), font=lf(14))
L["legend3"] = axis(LEG, x=PX(185), y=PY(1506), font=lf(13.5))
L["legend4"] = axis(LEG, x=PX(324), y=PY(1610), font=lf(14))
L["legend5"] = axis(LEG, x=PX(420), y=PY(2550), font=lf(14), tracegroupgap=3)
L["legend6"] = axis(LEG, x=PX(740), y=PY(4348), font=lf(10), orientation="h",
                    traceorder="normal", entrywidth=50, entrywidthmode="pixels")

fig.update_layout(autosize=True, margin=dict(l=0, r=0, t=0, b=0),
                  paper_bgcolor="white", plot_bgcolor="white", hovermode=False,
                  font=dict(family=SANS, color="black"), showlegend=True,
                  shapes=shapes, annotations=annotations, **L)

fig.write_html("out.html", default_width="calc(100vw - 16px)", default_height="calc(100vh - 16px)")
